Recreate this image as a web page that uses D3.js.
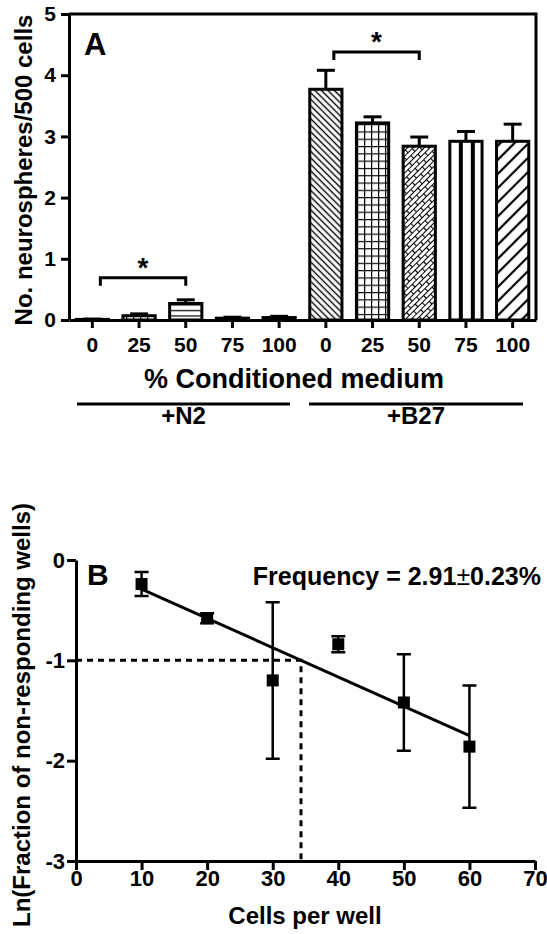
<!DOCTYPE html>
<html>
<head>
<meta charset="utf-8">
<script src="https://cdn.jsdelivr.net/npm/d3@7"></script>
<style>
body { margin: 0; background: #fff; }
svg text { font-family: "Liberation Sans", Arial, sans-serif; font-weight: bold; fill: #000; }
.axis path, .axis line { stroke: #000; stroke-width: 3px; }
</style>
</head>
<body>
<div id="viz"></div>
<script>
// ---- panel A data ----
var concLabels = ["0", "25", "50", "75", "100"];
var groupLabels = ["+N2", "+B27"];
var n2Mean = [0.01, 0.07, 0.27, 0.03, 0.04];
var n2Sem = [0.005, 0.03, 0.06, 0.015, 0.02];
var b27Mean = [3.77, 3.22, 2.84, 2.92, 2.92];
var b27Sem = [0.31, 0.10, 0.15, 0.16, 0.28];
var yTicksA = [0, 1, 2, 3, 4, 5];

// ---- panel B data ----
var cellsPerWell = [10, 20, 30, 40, 50, 60];
var lnFraction = [-0.24, -0.58, -1.20, -0.84, -1.42, -1.86];
var lnErr = [0.12, 0.05, 0.78, 0.08, 0.48, 0.61];
var fitX = [10, 60];
var fitY = [-0.29, -1.75];
var xTicksB = [0, 10, 20, 30, 40, 50, 60, 70];
var yTicksB = [0, -1, -2, -3];

var W = 547, H = 934;
var svg = d3.select('#viz').append('svg')
    .attr('width', W)
    .attr('height', H);

var defs = svg.append('defs');

// hatch patterns, one per concentration
function stripePattern(id, size, angle, lw) {
    var p = defs.append('pattern').attr('id', id)
        .attr('patternUnits', 'userSpaceOnUse')
        .attr('width', size).attr('height', size)
        .attr('patternTransform', 'rotate(' + angle + ')');
    p.append('rect').attr('width', size).attr('height', size).attr('fill', '#fff');
    p.append('line').attr('x1', size / 2).attr('x2', size / 2).attr('y1', 0).attr('y2', size)
        .attr('stroke', '#000').attr('stroke-width', lw);
}
stripePattern('p0', 4.6, -45, 1.4);
stripePattern('p4', 10, 45, 2.2);

var grid = defs.append('pattern').attr('id', 'p1')
    .attr('patternUnits', 'userSpaceOnUse').attr('width', 7).attr('height', 7.3);
grid.append('rect').attr('width', 7).attr('height', 7.3).attr('fill', '#fff');
grid.append('path').attr('d', 'M0,0.6H7M0.6,0V7.3').attr('stroke', '#000').attr('stroke-width', 1.3);

var brick = defs.append('pattern').attr('id', 'p2')
    .attr('patternUnits', 'userSpaceOnUse').attr('width', 12).attr('height', 8)
    .attr('patternTransform', 'rotate(-45)');
brick.append('rect').attr('width', 12).attr('height', 8).attr('fill', '#fff');
brick.append('path').attr('d', 'M0,0.5H12M0,4.5H12M0.5,0.5V4.5M6.5,4.5V8.5')
    .attr('stroke', '#000').attr('stroke-width', 1.2);

var hlines = defs.append('pattern').attr('id', 'pN2')
    .attr('patternUnits', 'userSpaceOnUse').attr('width', 6).attr('height', 5.5);
hlines.append('rect').attr('width', 6).attr('height', 5.5).attr('fill', '#fff');
hlines.append('line').attr('x1', 0).attr('x2', 6).attr('y1', 2.5).attr('y2', 2.5)
    .attr('stroke', '#000').attr('stroke-width', 1.2);

// ================= PANEL A =================
var bars = [];
n2Mean.forEach(function (m, i) { bars.push({g: 0, c: i, mean: m, sem: n2Sem[i]}); });
b27Mean.forEach(function (m, i) { bars.push({g: 1, c: i, mean: m, sem: b27Sem[i]}); });

var xA = d3.scaleBand()
    .domain(d3.range(bars.length))
    .range([69, 536])
    .paddingInner(0.31)
    .paddingOuter(0.155);
var yA = d3.scaleLinear().domain([0, 5]).range([320, 14]);

var vstripe = defs.append('pattern').attr('id', 'p3')
    .attr('patternUnits', 'userSpaceOnUse').attr('width', 12).attr('height', 12)
    .attr('x', xA(8) - 3);
vstripe.append('rect').attr('width', 12).attr('height', 12).attr('fill', '#fff');
vstripe.append('rect').attr('width', 4).attr('height', 12).attr('fill', '#000');

var gA = svg.append('g');

// frame top and right
gA.append('path')
    .attr('d', 'M' + xA.range()[0] + ',' + yA(5) + 'H' + xA.range()[1] + 'V' + yA(0))
    .attr('fill', 'none').attr('stroke', '#000').attr('stroke-width', 3);

// error bars (upper only)
var capA = 18;
var eb = gA.append('g').selectAll('g').data(bars).enter().append('g');
eb.append('line')
    .attr('x1', function (d, i) { return xA(i) + xA.bandwidth() / 2; })
    .attr('x2', function (d, i) { return xA(i) + xA.bandwidth() / 2; })
    .attr('y1', function (d) { return yA(d.mean); })
    .attr('y2', function (d) { return yA(d.mean + d.sem); })
    .attr('stroke', '#000').attr('stroke-width', 3);
eb.append('line')
    .attr('x1', function (d, i) { return xA(i) + xA.bandwidth() / 2 - capA / 2; })
    .attr('x2', function (d, i) { return xA(i) + xA.bandwidth() / 2 + capA / 2; })
    .attr('y1', function (d) { return yA(d.mean + d.sem); })
    .attr('y2', function (d) { return yA(d.mean + d.sem); })
    .attr('stroke', '#000').attr('stroke-width', 3);

gA.append('g').selectAll('rect').data(bars).enter().append('rect')
    .attr('x', function (d, i) { return xA(i); })
    .attr('width', xA.bandwidth())
    .attr('y', function (d) { return yA(d.mean); })
    .attr('height', function (d) { return yA(0) - yA(d.mean); })
    .attr('fill', function (d) { return (d.g === 0 && d.c === 2) ? 'url(#pN2)' : 'url(#p' + d.c + ')'; })
    .attr('stroke', '#000').attr('stroke-width', 3);

// axes
gA.append('g').attr('class', 'axis')
    .attr('transform', 'translate(' + xA.range()[0] + ',0)')
    .call(d3.axisLeft(yA).tickValues(yTicksA).tickFormat(String).tickSize(8).tickSizeOuter(0).tickPadding(5))
    .call(function (g) { g.selectAll('text').style('font-size', '21px'); });

gA.append('g').attr('class', 'axis')
    .attr('transform', 'translate(0,' + yA(0) + ')')
    .call(d3.axisBottom(xA).tickFormat(function (i) { return concLabels[i % 5]; }).tickSize(8).tickSizeOuter(0).tickPadding(9))
    .call(function (g) { g.selectAll('text').style('font-size', '21px'); });

// significance brackets
var brackets = [{a: 0, b: 2, y: 0.69, tip: 0.56}, {a: 5, b: 7, y: 4.38, tip: 4.25}];
brackets.forEach(function (br) {
    var x1 = xA(br.a) + xA.bandwidth() / 2 + 8, x2 = xA(br.b) + xA.bandwidth() / 2;
    gA.append('path')
        .attr('d', 'M' + x1 + ',' + yA(br.tip) + 'V' + yA(br.y) + 'H' + x2 + 'V' + yA(br.tip))
        .attr('fill', 'none').attr('stroke', '#000').attr('stroke-width', 3);
    gA.append('text').attr('x', (x1 + x2) / 2).attr('y', yA(br.y) - 1)
        .attr('text-anchor', 'middle').style('font-size', '28px').text('*');
});

gA.append('text').attr('x', 84).attr('y', 55).style('font-size', '31px').text('A');

gA.append('text')
    .attr('transform', 'translate(24,' + 170 + ') rotate(-90)')
    .attr('text-anchor', 'middle').attr('dy', '0.35em')
    .style('font-size', '24px').text('No. neurospheres/500 cells');

gA.append('text').attr('x', 294).attr('y', 388)
    .attr('text-anchor', 'middle').style('font-size', '27px').text('% Conditioned medium');

// group lines under the axis title
var groupSpans = [[77, 290], [309, 523]];
groupLabels.forEach(function (lab, k) {
    gA.append('line')
        .attr('x1', groupSpans[k][0]).attr('x2', groupSpans[k][1])
        .attr('y1', 404).attr('y2', 404)
        .attr('stroke', '#000').attr('stroke-width', 3);
    gA.append('text').attr('x', (groupSpans[k][0] + groupSpans[k][1]) / 2).attr('y', 424)
        .attr('text-anchor', 'middle').style('font-size', '24px').text(lab);
});

// ================= PANEL B =================
var xB = d3.scaleLinear().domain([0, 70]).range([76, 535]);
var yB = d3.scaleLinear().domain([-3, 0]).range([861, 560]);
var gB = svg.append('g');

// dashed guide at ln = -1
var xAtMinus1 = fitX[0] + (-1 - fitY[0]) * (fitX[1] - fitX[0]) / (fitY[1] - fitY[0]);
gB.append('path')
    .attr('d', 'M' + xB(0) + ',' + yB(-1) + 'H' + xB(xAtMinus1) + 'V' + yB(-3))
    .attr('fill', 'none').attr('stroke', '#000').attr('stroke-width', 3)
    .attr('stroke-dasharray', '6,5');

gB.append('g').attr('class', 'axis')
    .attr('transform', 'translate(' + xB(0) + ',0)')
    .call(d3.axisLeft(yB).tickValues(yTicksB).tickFormat(String).tickSize(9).tickSizeOuter(0).tickPadding(2))
    .call(function (g) { g.selectAll('text').style('font-size', '22px'); });

gB.append('g').attr('class', 'axis')
    .attr('transform', 'translate(0,' + yB(-3) + ')')
    .call(d3.axisBottom(xB).tickValues(xTicksB).tickFormat(String).tickSize(9).tickSizeOuter(0).tickPadding(0))
    .call(function (g) { g.selectAll('text').style('font-size', '22px'); });

// fit line
gB.append('line')
    .attr('x1', xB(fitX[0])).attr('y1', yB(fitY[0]))
    .attr('x2', xB(fitX[1])).attr('y2', yB(fitY[1]))
    .attr('stroke', '#000').attr('stroke-width', 3);

var capB = 14;
var pts = gB.append('g').selectAll('g').data(cellsPerWell).enter().append('g');
pts.append('path')
    .attr('d', function (d, i) {
        var x = xB(d), y1 = yB(lnFraction[i] + lnErr[i]), y2 = yB(lnFraction[i] - lnErr[i]);
        return 'M' + (x - capB / 2) + ',' + y1 + 'H' + (x + capB / 2) +
            'M' + x + ',' + y1 + 'V' + y2 +
            'M' + (x - capB / 2) + ',' + y2 + 'H' + (x + capB / 2);
    })
    .attr('fill', 'none').attr('stroke', '#000').attr('stroke-width', 2.5);
pts.append('rect')
    .attr('x', function (d) { return xB(d) - 6; })
    .attr('y', function (d, i) { return yB(lnFraction[i]) - 6; })
    .attr('width', 12).attr('height', 12).attr('fill', '#000');

gB.append('text').attr('x', 87).attr('y', 585).style('font-size', '30px').text('B');

var freq = gB.append('text').attr('x', 541).attr('y', 585).attr('text-anchor', 'end').style('font-size', '25px');
freq.append('tspan').text('Frequency = 2.91');
freq.append('tspan').style('font-weight', 'normal').text('\u00b1');
freq.append('tspan').text('0.23%');

gB.append('text')
    .attr('transform', 'translate(22,' + 715 + ') rotate(-90)')
    .attr('text-anchor', 'middle').attr('dy', '0.35em')
    .style('font-size', '24px').text('Ln(Fraction of non-responding wells)');

gB.append('text').attr('x', 305).attr('y', 924)
    .attr('text-anchor', 'middle').style('font-size', '24px').text('Cells per well');
</script>
</body>
</html>
